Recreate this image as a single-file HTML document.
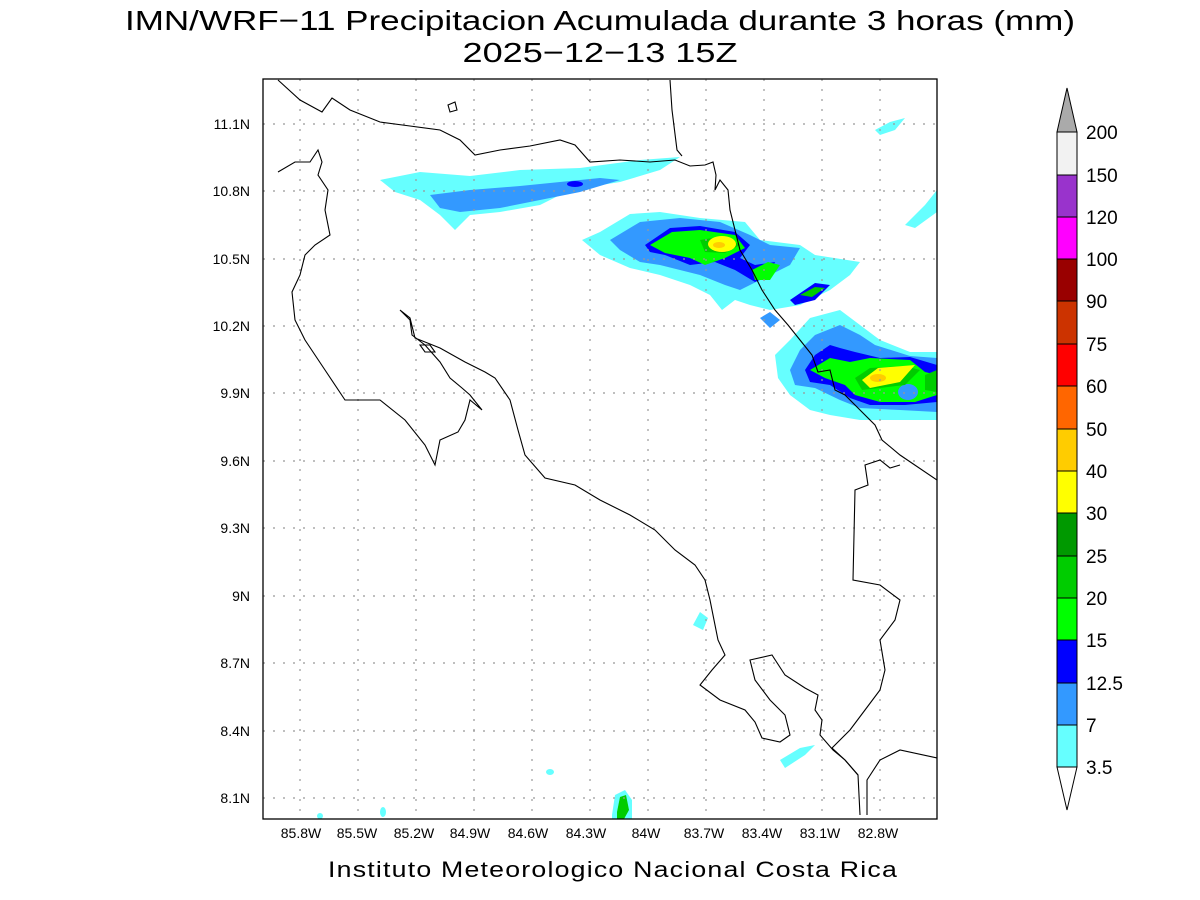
<!DOCTYPE html>
<html><head><meta charset="utf-8"><style>
body{margin:0;background:#fff;}
svg{display:block;font-family:"Liberation Sans",sans-serif;}
</style></head><body>
<svg width="1200" height="900" viewBox="0 0 1200 900" xmlns="http://www.w3.org/2000/svg">
<rect width="1200" height="900" fill="#fff"/>
<text x="600" y="30" font-size="28" text-anchor="middle" fill="#000" textLength="950" lengthAdjust="spacingAndGlyphs">IMN/WRF−11 Precipitacion Acumulada durante 3 horas (mm)</text>
<text x="600" y="62" font-size="28" text-anchor="middle" fill="#000" textLength="275" lengthAdjust="spacingAndGlyphs">2025−12−13 15Z</text>

<clipPath id="c"><rect x="263" y="79" width="674" height="740"/></clipPath>
<g clip-path="url(#c)">
<!-- precipitation -->
<g>
<path d="M380,180 L420,172 L470,176 L520,170 L580,168 L640,160 L680,157 L660,170 L620,182 L570,190 L540,205 L500,212 L470,215 L455,230 L440,215 L420,200 L395,192 Z" fill="#66ffff"/>
<path d="M430,195 L470,190 L520,186 L560,182 L600,178 L620,180 L580,192 L540,200 L500,208 L460,212 L440,208 Z" fill="#3399ff"/>
<ellipse cx="575" cy="184" rx="8" ry="3" fill="#0000ff"/>
<path d="M582,240 L600,232 L630,214 L660,212 L700,218 L745,222 L760,240 L800,245 L815,255 L860,262 L850,275 L830,290 L800,305 L770,310 L750,305 L735,300 L722,310 L710,295 L690,285 L660,275 L630,268 L600,255 Z" fill="#66ffff"/>
<path d="M610,240 L640,222 L680,218 L720,222 L750,235 L770,245 L800,248 L790,265 L760,280 L740,290 L725,285 L700,275 L660,265 L640,262 L620,250 Z" fill="#3399ff"/>
<path d="M645,245 L670,228 L700,226 L735,232 L750,245 L740,258 L755,265 L775,262 L770,275 L755,282 L735,270 L715,262 L690,265 L665,255 L650,252 Z" fill="#0000ff"/>
<path d="M650,245 L672,232 L700,230 L735,235 L745,248 L725,258 L705,265 L690,258 L665,253 Z" fill="#00ff00"/>
<path d="M700,240 L725,236 L740,245 L725,253 L705,252 Z" fill="#00cc00"/>
<ellipse cx="722" cy="244" rx="14" ry="8" fill="#ffff00"/>
<ellipse cx="719" cy="245" rx="6" ry="3" fill="#ffcc00"/>
<path d="M752,270 L768,262 L780,265 L770,280 L755,280 Z" fill="#00ff00"/>
<path d="M790,300 L815,283 L830,285 L815,300 L795,305 Z" fill="#0000ff"/>
<path d="M800,295 L815,287 L825,288 L812,297 Z" fill="#00cc00"/>
<path d="M760,318 L770,312 L780,320 L770,328 Z" fill="#3399ff"/>
<path d="M775,355 L790,340 L810,318 L840,310 L860,325 L880,340 L910,352 L937,352 L937,420 L900,420 L860,420 L830,415 L810,410 L790,395 L778,378 Z" fill="#66ffff"/>
<path d="M790,370 L800,350 L815,335 L840,325 L860,335 L875,345 L910,356 L937,358 L937,412 L900,410 L860,408 L840,400 L815,388 L795,385 Z" fill="#3399ff"/>
<path d="M805,370 L815,355 L830,345 L840,348 L855,352 L880,358 L910,357 L937,365 L937,402 L905,405 L870,405 L850,398 L830,385 L810,382 Z" fill="#0000ff"/>
<path d="M810,370 L830,358 L850,362 L870,358 L910,360 L925,372 L937,375 L937,395 L915,402 L880,402 L855,395 L845,385 L825,378 Z" fill="#00ff00"/>
<ellipse cx="908" cy="392" rx="10" ry="8" fill="#3399ff"/>
<path d="M855,378 L870,368 L905,366 L920,370 L905,385 L880,388 L862,390 Z" fill="#00cc00"/>
<path d="M862,380 L878,368 L915,365 L900,382 L870,388 Z" fill="#ffff00"/>
<ellipse cx="878" cy="378" rx="8" ry="4" fill="#ffcc00"/>
<path d="M925,375 L937,370 L937,392 L925,390 Z" fill="#00cc00"/>
<path d="M905,225 L925,205 L937,190 L937,212 L915,228 Z" fill="#66ffff"/>
<path d="M875,130 L890,122 L905,118 L895,130 L880,135 Z" fill="#66ffff"/>
<path d="M693,625 L700,612 L708,618 L703,630 Z" fill="#66ffff"/>
<path d="M780,760 L800,748 L815,745 L805,755 L785,768 Z" fill="#66ffff"/>
<ellipse cx="550" cy="772" rx="4" ry="3" fill="#66ffff"/>
<path d="M612,815 L615,795 L625,790 L632,800 L632,819 L612,819 Z" fill="#66ffff"/>
<path d="M617,812 L620,797 L626,795 L629,810 L624,819 L617,819 Z" fill="#00cc00"/>
<ellipse cx="383" cy="812" rx="3" ry="5" fill="#66ffff"/>
<ellipse cx="320" cy="816" rx="3" ry="3" fill="#66ffff"/>
</g>
<!-- grid -->
<g stroke="#999" stroke-width="1.2" stroke-dasharray="2,8" fill="none">
<path d="M300,79V819M358,79V819M416,79V819M474,79V819M532,79V819M590,79V819M648,79V819M706,79V819M764,79V819M822,79V819M880,79V819"/>
<path d="M263,124H937M263,191H937M263,259H937M263,326H937M263,393H937M263,461H937M263,528H937M263,596H937M263,663H937M263,731H937M263,798H937"/>
</g>
<!-- coast -->
<g stroke="#000" stroke-width="1.1" fill="none">
<path d="M278,80 L300,100 L322,112 L332,98 L350,110 L380,122 L410,126 L440,130 L460,140 L475,155 L500,150 L530,146 L560,140 L575,145 L590,162 L620,160 L650,162 L675,160 L690,166 L705,165 L713,162 L716,175 L715,190 L720,180 L728,190 L730,210 L735,230 L740,250 L752,270 L762,290 L775,310 L788,325 L800,340 L812,355 L818,372 L830,370 L835,390 L845,395 L860,410 L875,425 L882,440 L900,455 L937,480"/>
<path d="M670,80 L672,110 L677,150 L682,156"/>
<path d="M278,172 L295,162 L310,162 L318,150 L322,162 L318,175 L328,190 L325,210 L330,235 L315,245 L305,255 L300,275 L292,292 L295,320 L305,340 L325,370 L345,400 L380,400 L405,420 L425,445 L435,465 L440,440 L458,432 L465,420 L470,400 L482,410 L470,395 L462,388 L450,378 L440,362 L425,345 L412,335 L410,320 L400,310 L410,318 L415,338 L440,348 L465,362 L485,372 L495,378 L510,400 L518,430 L525,455 L545,478 L575,485 L600,500 L630,515 L655,530 L675,550 L695,565 L705,580 L710,600 L715,625 L718,640 L725,655 L712,670 L700,685 L720,700 L745,710 L755,722 L762,738 L780,742 L790,735 L785,715 L770,700 L755,680 L750,660 L772,655 L785,675 L805,688 L818,695 L815,710 L822,720 L820,735 L833,750 L845,760 L858,775 L860,815"/>
<path d="M420,345 L430,345 L435,352 L425,352 Z"/>
<path d="M448,105 L455,102 L457,110 L450,112 Z"/>
<path d="M867,815 L867,780 L880,760 L900,750 L937,758"/>
<path d="M858,775 L845,760 L832,748 L850,730 L865,710 L880,690 L885,670 L880,640 L895,620 L900,600 L880,585 L853,580 L855,490 L868,485 L865,465 L880,460 L890,468 L900,465"/>
</g>
</g>
<rect x="263" y="79" width="674" height="740" fill="none" stroke="#000" stroke-width="1.3"/>
<g font-size="14" text-anchor="end" fill="#000">
<text x="250" y="129">11.1N</text><text x="250" y="196">10.8N</text><text x="250" y="264">10.5N</text><text x="250" y="331">10.2N</text><text x="250" y="398">9.9N</text><text x="250" y="466">9.6N</text><text x="250" y="533">9.3N</text><text x="250" y="601">9N</text><text x="250" y="668">8.7N</text><text x="250" y="736">8.4N</text><text x="250" y="803">8.1N</text>
</g>
<g font-size="14" text-anchor="middle" fill="#000">
<text x="301" y="838">85.8W</text><text x="357" y="838">85.5W</text><text x="414" y="838">85.2W</text><text x="470" y="838">84.9W</text><text x="528" y="838">84.6W</text><text x="586" y="838">84.3W</text><text x="646" y="838">84W</text><text x="704" y="838">83.7W</text><text x="762" y="838">83.4W</text><text x="820" y="838">83.1W</text><text x="878" y="838">82.8W</text>
</g>
<text x="613" y="877" font-size="22" text-anchor="middle" fill="#000" textLength="570" lengthAdjust="spacingAndGlyphs" letter-spacing="1">Instituto Meteorologico Nacional Costa Rica</text>
<!-- colorbar -->
<g stroke="#000" stroke-width="1">
<path d="M1057,132 L1067,88 L1077,132 Z" fill="#aaaaaa"/>
<rect x="1057" y="132" width="20" height="43" fill="#f2f2f2"/>
<rect x="1057" y="175" width="20" height="42" fill="#9933cc"/>
<rect x="1057" y="217" width="20" height="42" fill="#ff00ff"/>
<rect x="1057" y="259" width="20" height="42" fill="#990000"/>
<rect x="1057" y="301" width="20" height="43" fill="#cc3300"/>
<rect x="1057" y="344" width="20" height="42" fill="#ff0000"/>
<rect x="1057" y="386" width="20" height="43" fill="#ff6600"/>
<rect x="1057" y="429" width="20" height="42" fill="#ffcc00"/>
<rect x="1057" y="471" width="20" height="42" fill="#ffff00"/>
<rect x="1057" y="513" width="20" height="43" fill="#009900"/>
<rect x="1057" y="556" width="20" height="42" fill="#00cc00"/>
<rect x="1057" y="598" width="20" height="42" fill="#00ff00"/>
<rect x="1057" y="640" width="20" height="43" fill="#0000ff"/>
<rect x="1057" y="683" width="20" height="42" fill="#3399ff"/>
<rect x="1057" y="725" width="20" height="42" fill="#66ffff"/>
<path d="M1057,767 L1067,810 L1077,767 Z" fill="#fff"/>
</g>
<g font-size="19" fill="#000">
<text x="1086" y="139">200</text><text x="1086" y="182">150</text><text x="1086" y="224">120</text><text x="1086" y="266">100</text><text x="1086" y="308">90</text><text x="1086" y="351">75</text><text x="1086" y="393">60</text><text x="1086" y="436">50</text><text x="1086" y="478">40</text><text x="1086" y="520">30</text><text x="1086" y="563">25</text><text x="1086" y="605">20</text><text x="1086" y="647">15</text><text x="1086" y="690">12.5</text><text x="1086" y="732">7</text><text x="1086" y="774">3.5</text>
</g>
</svg>
</body></html>
